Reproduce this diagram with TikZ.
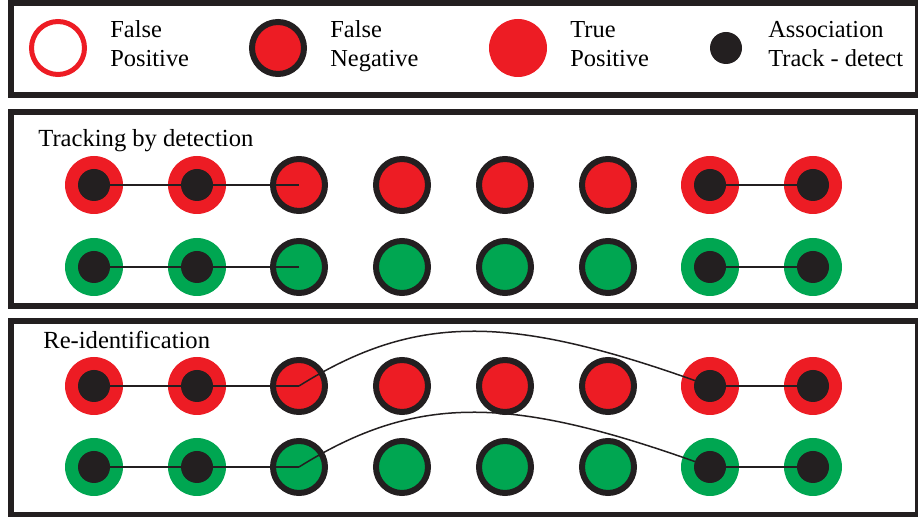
\documentclass[tikz,border=0pt]{standalone}
\usepackage{fontspec}
\setmainfont{Liberation Serif}
\definecolor{fpred}{HTML}{ED1C24}
\definecolor{tpgreen}{HTML}{00A651}
\definecolor{inkblack}{HTML}{231F20}
\begin{document}
\begin{tikzpicture}[
    panel/.style={draw=inkblack, line width=0.12cm},
    matchred/.style={circle, fill=fpred, inner sep=0pt,
                  minimum size=1.16cm,
                  path picture={\fill[inkblack]
                  (path picture bounding box.center) circle (0.32cm);}},
    matchgreen/.style={circle, fill=tpgreen, inner sep=0pt,
                  minimum size=1.16cm,
                  path picture={\fill[inkblack]
                  (path picture bounding box.center) circle (0.32cm);}},
    missred/.style={circle, draw=inkblack, line width=0.12cm,
                  fill=fpred, inner sep=0pt, minimum size=1.04cm},
    missgreen/.style={circle, draw=inkblack, line width=0.12cm,
                  fill=tpgreen, inner sep=0pt, minimum size=1.04cm},
    ring/.style={circle, draw=fpred, line width=0.1cm, fill=white,
                  inner sep=0pt, minimum size=1.06cm},
    disc/.style={circle, fill=fpred, inner sep=0pt, minimum size=1.16cm},
    dot/.style={circle, fill=inkblack, inner sep=0pt, minimum size=0.64cm},
    legend/.style={anchor=south west, align=left, inner sep=0pt,
                  text depth=0pt,
                  font=\fontsize{13.9}{16.4}\selectfont},
    title/.style={anchor=base west, inner sep=0pt,
                  font=\fontsize{14}{16}\selectfont},
    link/.style={draw=inkblack, line width=0.03cm}
]
    \useasboundingbox (0,0) rectangle (18.36,10.34);

    % Kaders
    \draw[panel] (0.22,8.44) rectangle (18.36,10.28);
    \draw[panel] (0.22,4.22) rectangle (18.36,8.09);
    \draw[panel] (0.22,0.04) rectangle (18.36,3.91);

    % Legende
    \node[ring] (lfp) at (1.16,9.38) {};
    \node[legend] (tfp) at (2.20,9.00) {False\\Positive};
    \node[missred] (lfn) at (5.56,9.38) {};
    \node[legend] (tfn) at (6.60,9.00) {False\\Negative};
    \node[disc] (ltp) at (10.36,9.38) {};
    \node[legend] (ttp) at (11.40,9.00) {True\\Positive};
    \node[dot] (las) at (14.52,9.38) {};
    \node[legend] (tas) at (15.36,9.00) {Association\\Track - detect};

    % Tracking by detection
    \node[title] (ttrack) at (0.76,7.40) {Tracking by detection};

    \node[matchred] (tr1) at (1.88,6.64) {};
    \node[matchred] (tr2) at (3.94,6.64) {};
    \node[missred]  (tr3) at (5.98,6.64) {};
    \node[missred]  (tr4) at (8.04,6.64) {};
    \node[missred]  (tr5) at (10.10,6.64) {};
    \node[missred]  (tr6) at (12.16,6.64) {};
    \node[matchred] (tr7) at (14.20,6.64) {};
    \node[matchred] (tr8) at (16.26,6.64) {};

    \node[matchgreen] (tg1) at (1.88,5.00) {};
    \node[matchgreen] (tg2) at (3.94,5.00) {};
    \node[missgreen]  (tg3) at (5.98,5.00) {};
    \node[missgreen]  (tg4) at (8.04,5.00) {};
    \node[missgreen]  (tg5) at (10.10,5.00) {};
    \node[missgreen]  (tg6) at (12.16,5.00) {};
    \node[matchgreen] (tg7) at (14.20,5.00) {};
    \node[matchgreen] (tg8) at (16.26,5.00) {};

    \draw[link] (tr1.center) -- (tr2.center) -- (tr3.center);
    \draw[link] (tr7.center) -- (tr8.center);
    \draw[link] (tg1.center) -- (tg2.center) -- (tg3.center);
    \draw[link] (tg7.center) -- (tg8.center);

    % Re-identification
    \node[title] (treid) at (0.86,3.36) {Re-identification};

    \node[matchred] (rr1) at (1.88,2.62) {};
    \node[matchred] (rr2) at (3.94,2.62) {};
    \node[missred]  (rr3) at (5.98,2.62) {};
    \node[missred]  (rr4) at (8.04,2.62) {};
    \node[missred]  (rr5) at (10.10,2.62) {};
    \node[missred]  (rr6) at (12.16,2.62) {};
    \node[matchred] (rr7) at (14.20,2.62) {};
    \node[matchred] (rr8) at (16.26,2.62) {};

    \node[matchgreen] (rg1) at (1.88,1.00) {};
    \node[matchgreen] (rg2) at (3.94,1.00) {};
    \node[missgreen]  (rg3) at (5.98,1.00) {};
    \node[missgreen]  (rg4) at (8.04,1.00) {};
    \node[missgreen]  (rg5) at (10.10,1.00) {};
    \node[missgreen]  (rg6) at (12.16,1.00) {};
    \node[matchgreen] (rg7) at (14.20,1.00) {};
    \node[matchgreen] (rg8) at (16.26,1.00) {};

    \draw[link] (rr1.center) -- (rr2.center) -- (rr3.center);
    \draw[link] (rr3.center) .. controls +(32:2.8) and +(160:4.2) .. (rr7.center);
    \draw[link] (rr7.center) -- (rr8.center);
    \draw[link] (rg1.center) -- (rg2.center) -- (rg3.center);
    \draw[link] (rg3.center) .. controls +(32:2.8) and +(160:4.2) .. (rg7.center);
    \draw[link] (rg7.center) -- (rg8.center);

\end{tikzpicture}
\end{document}
